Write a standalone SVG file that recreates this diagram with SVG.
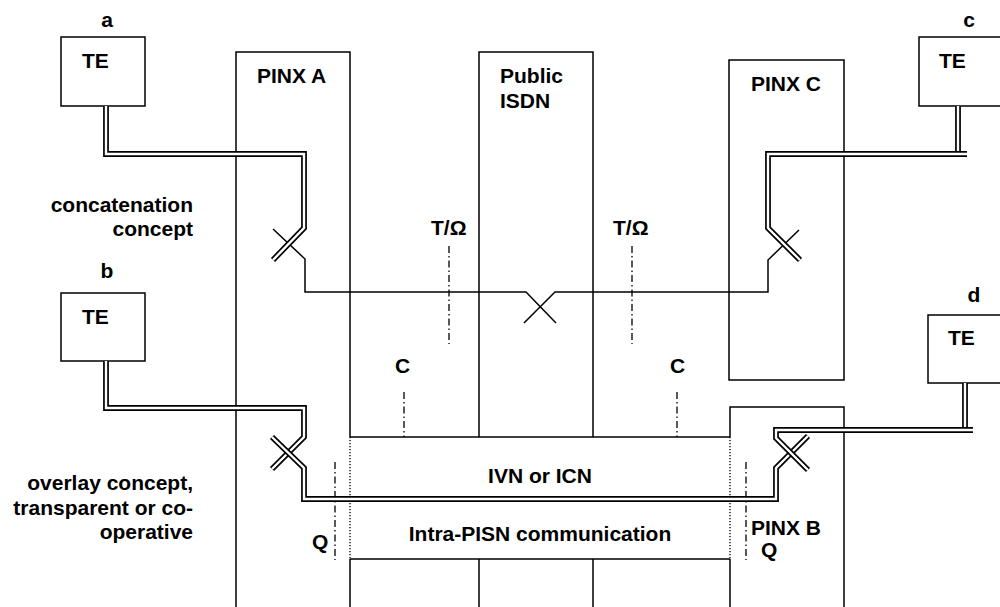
<svg xmlns="http://www.w3.org/2000/svg" width="1000" height="607" viewBox="0 0 1000 607">
<style>
text{font-family:"Liberation Sans",Arial,sans-serif;font-weight:bold;font-size:21px;fill:#000}
.r{text-anchor:end}
.m{text-anchor:middle}
.ln{fill:none;stroke:#000;stroke-width:1.5}
.dot{fill:none;stroke:#000;stroke-width:1.3;stroke-dasharray:1.3,1.7}
.dd{fill:none;stroke:#000;stroke-width:1.3;stroke-dasharray:7,3,1.5,3}
.po{fill:none;stroke:#000;stroke-width:5.8;stroke-linejoin:miter;stroke-linecap:butt}
.pi{fill:none;stroke:#fff;stroke-width:2.4;stroke-linejoin:miter;stroke-linecap:butt}
</style>
<rect width="1000" height="607" fill="#fff"/>

<g id="te-a">
<rect class="ln" x="61" y="37" width="84" height="69"/>
<text x="107" y="27" class="m">a</text>
<text x="82" y="68">TE</text>
</g>
<g id="te-b">
<rect class="ln" x="61" y="293" width="84" height="68"/>
<text x="107" y="278" class="m">b</text>
<text x="82" y="324">TE</text>
</g>
<g id="te-c">
<rect class="ln" x="919" y="37" width="100" height="69"/>
<text x="969" y="27" class="m">c</text>
<text x="939" y="68">TE</text>
</g>
<g id="te-d">
<rect class="ln" x="928" y="315" width="100" height="68"/>
<text x="974" y="302" class="m">d</text>
<text x="948" y="345">TE</text>
</g>

<g id="pinx-a">
<path class="ln" d="M236,607 V52 H350 V437 M350,559 V607"/>
<path class="dot" d="M350,437 V559"/>
<text x="257" y="83">PINX A</text>
</g>
<g id="public-isdn">
<path class="ln" d="M479,437 V52 H593 V437 M479,559 V607 M593,559 V607"/>
<text x="500" y="83">Public</text>
<text x="500" y="108">ISDN</text>
</g>
<g id="pinx-c">
<rect class="ln" x="729" y="60" width="115" height="320"/>
<text x="751" y="91">PINX C</text>
</g>
<g id="pinx-b">
<path class="ln" d="M730,437 V407 H844 V607 M730,559 V607"/>
<path class="dot" d="M730,437 V559"/>
<text x="751" y="535">PINX B</text>
<text x="761" y="557">Q</text>
</g>
<g id="ivn">
<path class="ln" d="M350,437 H730 M350,559 H730"/>
<text x="540" y="483" class="m">IVN or ICN</text>
<text x="540" y="541" class="m">Intra-PISN communication</text>
</g>

<g id="labels">
<text x="193" y="212" class="r">concatenation</text>
<text x="193" y="236" class="r">concept</text>
<text x="193" y="490" class="r">overlay concept,</text>
<text x="193" y="515" class="r">transparent or co-</text>
<text x="193" y="539" class="r">operative</text>
<text x="431" y="235">T/Ω</text>
<text x="613" y="235">T/Ω</text>
<text x="395" y="373">C</text>
<text x="670" y="373">C</text>
<text x="312" y="549">Q</text>
</g>

<g id="reference-points">
<path class="dd" d="M449,246 V344 M632,246 V344 M404,392 V437 M677,392 V437 M335,462 V560 M746,462 V560"/>
</g>

<g id="connectors">
<path class="ln" d="M273,229 L305,259 V292 H526 L556,323 M799,230 L768,260 V292 H555 L524,323"/>
<path class="po" d="M106,106 V154 H304 V228 L273,260"/>
<path class="pi" d="M106,106 V154 H304 V228 L273,260"/>
<path class="po" d="M958,106 V156"/>
<path class="pi" d="M958,106 V156"/>
<path class="po" d="M967,154 H768 V228 L800,260"/>
<path class="pi" d="M967,154 H768 V228 L800,260"/>
<path class="po" d="M106,361 V408 H304 V437 L272,469"/>
<path class="pi" d="M106,361 V408 H304 V437 L272,469"/>
<path class="po" d="M272,437 L304,468 V499 H776 V468 L808,436"/>
<path class="pi" d="M272,437 L304,468 V499 H776 V468 L808,436"/>
<path class="po" d="M965,383 V432"/>
<path class="pi" d="M965,383 V432"/>
<path class="po" d="M973,430 H776 V438 L808,470"/>
<path class="pi" d="M973,430 H776 V438 L808,470"/>
</g>
</svg>
